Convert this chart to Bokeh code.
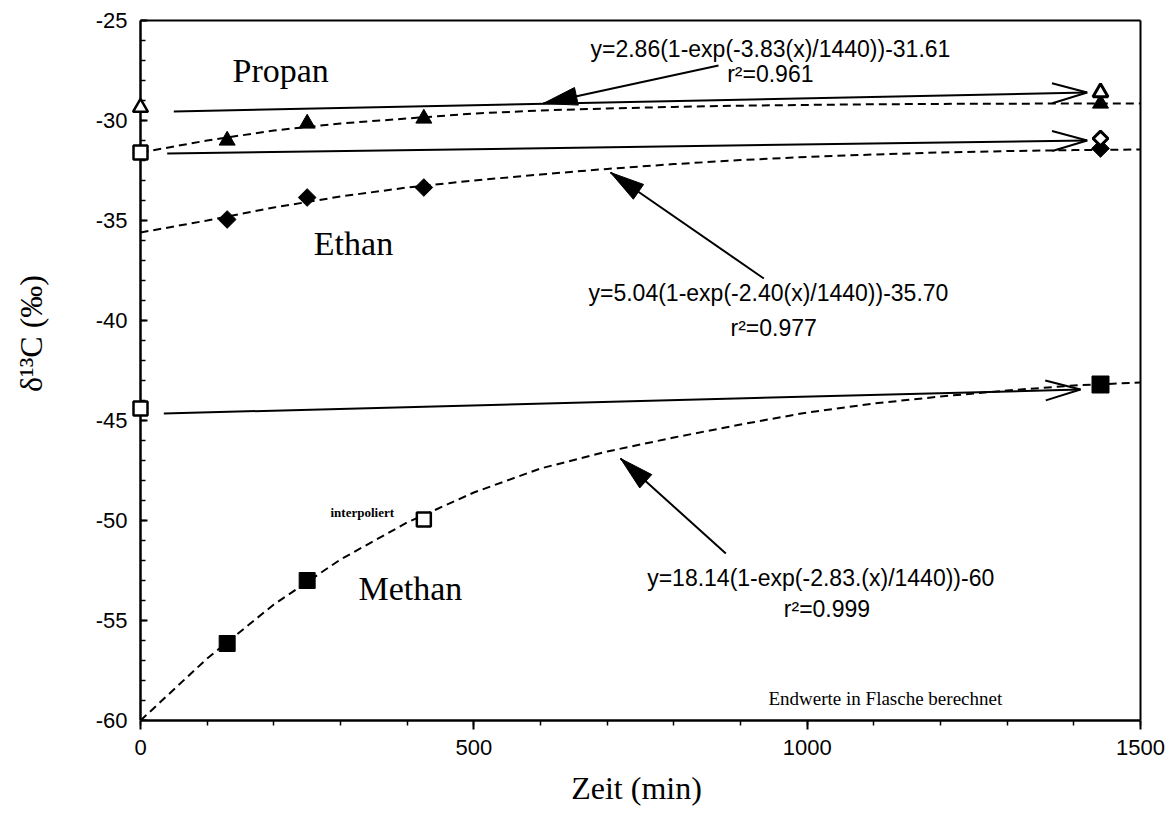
import math
from bokeh.plotting import figure
from bokeh.models import FixedTicker
from bokeh.models import Label
from bokeh.embed import file_html
from bokeh.resources import INLINE

# ---------------- data ----------------
meas_time = [130, 250, 425]
end_time = [1440]
start_time = [0]

propan_meas = [-31.0, -30.15, -29.9]
ethan_meas = [-34.95, -33.85, -33.35]
methan_meas_time = [130, 250]
methan_meas = [-56.15, -53.0]
methan_interp_time = [425]
methan_interp = [-49.95]

propan_start = [-29.35]
ethan_start = [-31.6]
methan_start = [-44.4]

propan_end_meas = [-29.15]
ethan_end_meas = [-31.4]
methan_end_meas = [-43.2]
propan_end_calc = [-28.6]
ethan_end_calc = [-30.9]

fit_x = [0, 100, 200, 300, 400, 500, 600, 700, 800, 900, 1000, 1100, 1200, 1300, 1400, 1500]
propan_fit = [-31.60, -31.00, -30.50, -30.15, -29.90, -29.65, -29.50, -29.40, -29.32, -29.26,
              -29.22, -29.19, -29.17, -29.16, -29.15, -29.15]
ethan_fit = [-35.60, -35.00, -34.35, -33.80, -33.35, -33.00, -32.70, -32.42, -32.18, -31.98,
             -31.82, -31.70, -31.60, -31.53, -31.48, -31.45]
methan_fit = [-60.0, -56.9, -54.2, -51.95, -50.1, -48.6, -47.4, -46.55, -45.85, -45.2,
              -44.6, -44.15, -43.8, -43.5, -43.25, -43.1]

# horizontal "start -> calculated end" arrows (open heads)
shift_x0 = [50, 40, 35]
shift_y0 = [-29.55, -31.65, -44.65]
shift_x1 = [1420, 1420, 1410]
shift_y1 = [-28.6, -31.0, -43.45]

# equation pointer arrows (filled heads)
ann_x0 = [867, 935, 878]
ann_y0 = [-27.25, -37.9, -51.65]
ann_x1 = [604, 705, 720]
ann_y1 = [-29.15, -32.6, -46.9]

eq_texts = ["y=2.86(1-exp(-3.83(x)/1440))-31.61",
            "y=5.04(1-exp(-2.40(x)/1440))-35.70",
            "y=18.14(1-exp(-2.83.(x)/1440))-60"]
eq_x = [675, 672, 760]
eq_y = [-26.4, -38.6, -52.85]
r2_texts = ["r\u00b2=0.961", "r\u00b2=0.977", "r\u00b2=0.999"]
r2_x = [880, 885, 965]
r2_y = [-27.65, -40.35, -54.4]

x_ticks = [0, 500, 1000, 1500]
x_minor = list(range(0, 1501, 100))
y_ticks = [-60, -55, -50, -45, -40, -35, -30, -25]
y_minor = list(range(-60, -24, 1))
x_lim = [0, 1500]
y_lim = [-60, -25]

# ---------------- figure ----------------
PX_X = 1000 / 1500   # px per x unit
PX_Y = 700 / 35      # px per y unit
pad_l, pad_r, pad_t = 15, 3, 0.1   # small data-space pads so edge markers are not clipped
xr = (x_lim[0] - pad_l, x_lim[1] + pad_r)
yr = (y_lim[0], y_lim[1] + pad_t)
FW = round((xr[1] - xr[0]) * PX_X)
FH = round((yr[1] - yr[0]) * PX_Y)

p = figure(frame_width=FW, frame_height=FH, x_range=xr, y_range=yr,
           output_backend="svg", toolbar_location=None,
           min_border_left=130, min_border_right=1175 - 130 - FW,
           min_border_top=20 - round(pad_t * PX_Y), min_border_bottom=109)
p.background_fill_color = "white"
p.border_fill_color = "white"
p.xgrid.visible = False
p.ygrid.visible = False
p.outline_line_color = None

p.xaxis.ticker = FixedTicker(ticks=x_ticks, minor_ticks=x_minor)
p.yaxis.ticker = FixedTicker(ticks=y_ticks, minor_ticks=y_minor)
p.xaxis.bounds = tuple(x_lim)
p.yaxis.major_label_overrides = {t: str(t) for t in y_ticks}
p.xaxis.major_label_overrides = {t: str(t) for t in x_ticks}
for ax in (p.xaxis, p.yaxis):
    ax.axis_line_width = 2.5
    ax.axis_line_color = "black"
    ax.major_tick_line_width = 2
    ax.minor_tick_line_width = 1.5
    ax.major_tick_line_color = "black"
    ax.minor_tick_line_color = "black"
    ax.major_label_text_font = "Liberation Sans"
    ax.major_label_text_font_size = "22px"
    ax.major_label_text_color = "black"
p.xaxis.major_tick_out = 9
p.xaxis.major_tick_in = 0
p.xaxis.minor_tick_out = 5
p.xaxis.minor_tick_in = 0
p.xaxis.major_label_standoff = 10
# y axis: only labels drawn by the axis; line and ticks drawn at x = 0 below
p.yaxis.axis_line_color = None
p.yaxis.major_tick_line_color = None
p.yaxis.minor_tick_line_color = None
p.yaxis.major_tick_in = 0
p.yaxis.major_tick_out = 0
p.yaxis.minor_tick_in = 0
p.yaxis.minor_tick_out = 0
p.yaxis.major_label_standoff = 3

p.xaxis.axis_label = "Zeit (min)"
p.xaxis.axis_label_text_font = "Liberation Serif"
p.xaxis.axis_label_text_font_size = "32px"
p.xaxis.axis_label_text_font_style = "normal"
p.xaxis.axis_label_text_color = "black"
p.xaxis.axis_label_standoff = 12

p.yaxis.axis_label = "\u00a0" * 10 + "\u03b4\u00b9\u00b3C  (\u2030)"
p.yaxis.axis_label_text_font = "Liberation Serif"
p.yaxis.axis_label_text_font_size = "32px"
p.yaxis.axis_label_text_font_style = "normal"
p.yaxis.axis_label_text_color = "black"
p.yaxis.axis_label_standoff = 44

# y axis line and inward ticks at x = 0
p.segment(x0=[x_lim[0]], y0=[y_lim[0]], x1=[x_lim[0]], y1=[y_lim[1]],
          line_color="black", line_width=2.5)
p.segment(x0=[x_lim[0]] * len(y_ticks), y0=y_ticks,
          x1=[x_lim[0] + 7 / PX_X] * len(y_ticks), y1=y_ticks,
          line_color="black", line_width=2)
p.segment(x0=[x_lim[0]] * len(y_minor), y0=y_minor,
          x1=[x_lim[0] + 5 / PX_X] * len(y_minor), y1=y_minor,
          line_color="black", line_width=1.5)

# top and right frame lines
p.segment(x0=[x_lim[0], x_lim[1]], y0=[y_lim[1], y_lim[1]],
          x1=[x_lim[1], x_lim[1]], y1=[y_lim[1], y_lim[0]],
          line_color="black", line_width=2)

# ---------------- fit curves ----------------
for fy in (propan_fit, ethan_fit, methan_fit):
    p.line(fit_x, fy, line_color="black", line_width=2, line_dash="8 5")


def head_pts(xt, yt, xf, yf, L, hw):
    dx = (xt - xf) * PX_X
    dy = (yt - yf) * PX_Y
    d = math.hypot(dx, dy)
    ux, uy = dx / d, dy / d
    bx, by = -ux * L, -uy * L
    nx, ny = -uy, ux
    left = (xt + (bx + nx * hw) / PX_X, yt + (by + ny * hw) / PX_Y)
    right = (xt + (bx - nx * hw) / PX_X, yt + (by - ny * hw) / PX_Y)
    return left, right


# start -> end arrows with open heads
p.segment(x0=shift_x0, y0=shift_y0, x1=shift_x1, y1=shift_y1, line_color="black", line_width=2)
oh_xs, oh_ys = [], []
for a, b, c, d in zip(shift_x0, shift_y0, shift_x1, shift_y1):
    l, r = head_pts(c, d, a, b, 35, 10)
    oh_xs.append([l[0], c, r[0]])
    oh_ys.append([l[1], d, r[1]])
p.multi_line(oh_xs, oh_ys, line_color="black", line_width=2)

# equation pointer arrows with filled heads
p.segment(x0=ann_x0, y0=ann_y0, x1=ann_x1, y1=ann_y1, line_color="black", line_width=2)
fh_xs, fh_ys = [], []
for a, b, c, d in zip(ann_x0, ann_y0, ann_x1, ann_y1):
    l, r = head_pts(c, d, a, b, 34, 9)
    fh_xs.append([l[0], c, r[0]])
    fh_ys.append([l[1], d, r[1]])
p.patches(fh_xs, fh_ys, fill_color="black", line_color="black", line_width=1)

# ---------------- markers ----------------
p.scatter(meas_time, propan_meas, marker="triangle", size=16, color="black")
p.scatter(end_time, propan_end_meas, marker="triangle", size=16, color="black")
p.scatter(meas_time, ethan_meas, marker="square", angle=math.pi / 4, size=12.5, color="black")
p.scatter(end_time, ethan_end_meas, marker="square", angle=math.pi / 4, size=12.5, color="black")
p.scatter(methan_meas_time, methan_meas, marker="square", size=16, color="black")
p.scatter(end_time, methan_end_meas, marker="square", size=17, color="black")

p.scatter(start_time, propan_start, marker="triangle", size=15, fill_color="white",
          line_color="black", line_width=2.5)
p.scatter(start_time, ethan_start, marker="square", size=14, fill_color="white",
          line_color="black", line_width=2.5)
p.scatter(start_time, methan_start, marker="square", size=14, fill_color="white",
          line_color="black", line_width=2.5)
p.scatter(methan_interp_time, methan_interp, marker="square", size=14, fill_color="white",
          line_color="black", line_width=2.5)
p.scatter(end_time, propan_end_calc, marker="triangle", size=15, fill_color="white",
          line_color="black", line_width=3)
p.scatter(end_time, ethan_end_calc, marker="square", angle=math.pi / 4, size=10.5,
          fill_color="white", line_color="black", line_width=3)

# ---------------- texts ----------------
def lab(x, y, t, font, size, style="normal"):
    p.add_layout(Label(x=x, y=y, text=t, text_font=font, text_font_size=size,
                       text_font_style=style, text_color="black",
                       text_align="left", text_baseline="alphabetic"))


lab(138, -27.5, "Propan", "Liberation Serif", "34px")
lab(260, -36.15, "Ethan", "Liberation Serif", "34px")
lab(327, -53.4, "Methan", "Liberation Serif", "34px")
lab(285, -49.6, "interpoliert", "Liberation Serif", "13px", "bold")
lab(942, -58.9, "Endwerte in Flasche berechnet", "Liberation Serif", "19px")
for t, x, y in zip(eq_texts, eq_x, eq_y):
    lab(x, y, t, "Liberation Sans", "23px")
for t, x, y in zip(r2_texts, r2_x, r2_y):
    lab(x, y, t, "Liberation Sans", "23px")

open("out.html", "w").write(file_html(p, INLINE))
